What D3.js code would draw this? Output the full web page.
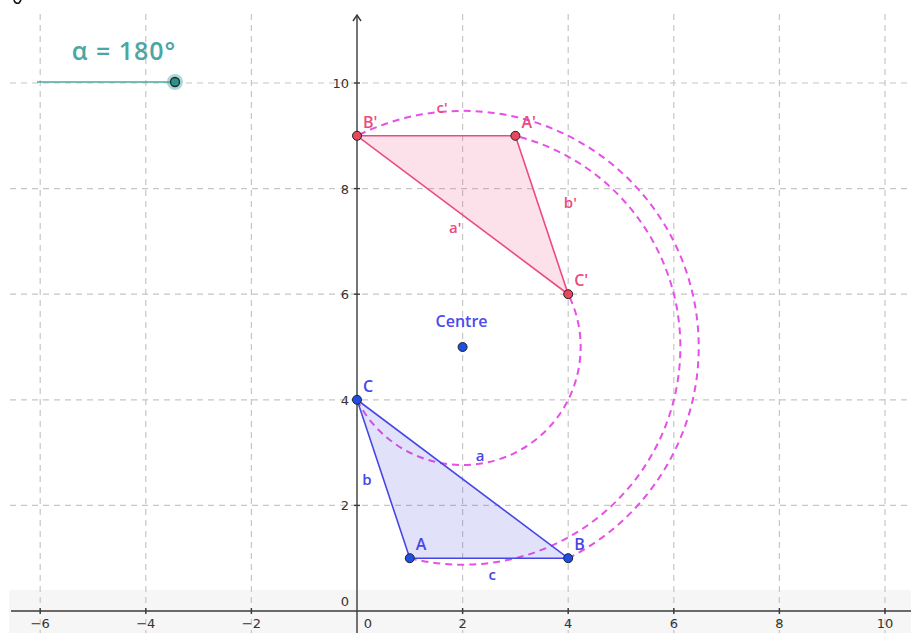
<!DOCTYPE html>
<html>
<head>
<meta charset="utf-8">
<script src="https://cdn.jsdelivr.net/npm/d3@7"></script>
<style>
  html, body { margin: 0; padding: 0; background: #fff; }
  svg { display: block; font-family: "DejaVu Sans", sans-serif; }
  .lab { font-family: "Open Sans", "DejaVu Sans", sans-serif; font-weight: 600; }
</style>
</head>
<body>
<svg id="chart" width="911" height="633"></svg>
<script>
// rotation angle (degrees) and centre
const alphaDeg = 180;
const centre = { name: "Centre", x: 2, y: 5 };

// original triangle and its image
const original = [
  { name: "A", x: 1, y: 1 },
  { name: "B", x: 4, y: 1 },
  { name: "C", x: 0, y: 4 }
];
const rotated = [
  { name: "A'", x: 3, y: 9 },
  { name: "B'", x: 0, y: 9 },
  { name: "C'", x: 4, y: 6 }
];

// segment labels, anchored in graph units
const segLabels = [
  { t: "a", x: 2.33, y: 2.94, img: false },
  { t: "b", x: 0.19, y: 2.48, img: false },
  { t: "c", x: 2.56, y: 0.68, img: false },
  { t: "a'", x: 1.86, y: 7.25, img: true },
  { t: "b'", x: 4.04, y: 7.73, img: true },
  { t: "c'", x: 1.61, y: 9.53, img: true }
];

const xTicks = [-6, -4, -2, 0, 2, 4, 6, 8, 10];
const yTicks = [0, 2, 4, 6, 8, 10];

const W = 911, H = 633;
const blue = "#4646e6", blueFill = "rgba(90,90,220,0.18)", bluePt = "#1d4fe6";
const pink = "#ea4b80", pinkFill = "rgba(236,90,140,0.18)", pinkPt = "#e8485e";
const arcCol = "#e650e6", teal = "#4aa7a3";

const svg = d3.select("#chart");

const x = d3.scaleLinear().domain([0, 10]).range([357, 885]);
const y = d3.scaleLinear().domain([0, 10]).range([611, 83]);

// cropped glyph fragment at the very top (drawn as a mark)
svg.append("path").attr("d", "M14,0 Q15,4 19,3 L21,0").attr("fill", "none")
  .attr("stroke", "#111").attr("stroke-width", 1.6);

// grey band along the bottom
svg.append("rect").attr("x", 9).attr("y", 590).attr("width", W - 9).attr("height", H - 590)
  .attr("fill", "#f6f6f6");

// grid
const grid = svg.append("g").attr("stroke", "#c6c6c6").attr("stroke-width", 1.2)
  .attr("stroke-dasharray", "6,5");
grid.selectAll(".gx").data(xTicks.filter(d => d !== 0)).join("line")
  .attr("x1", d => x(d)).attr("x2", d => x(d)).attr("y1", 14).attr("y2", H);
grid.selectAll(".gy").data(yTicks.filter(d => d !== 0)).join("line")
  .attr("x1", 10).attr("x2", W).attr("y1", d => y(d)).attr("y2", d => y(d));

// axes
const axes = svg.append("g").attr("stroke", "#3a3a3a").attr("stroke-width", 1.4);
axes.append("line").attr("x1", 11).attr("x2", W).attr("y1", y(0)).attr("y2", y(0));
axes.append("line").attr("x1", x(0)).attr("x2", x(0)).attr("y1", 16).attr("y2", H);
axes.append("path").attr("fill", "none")
  .attr("d", `M${x(0) - 4},${21}L${x(0)},${15}L${x(0) + 4},${21}`);
axes.selectAll(".tx").data(xTicks.filter(d => d !== 0)).join("line")
  .attr("x1", d => x(d)).attr("x2", d => x(d)).attr("y1", y(0) - 3).attr("y2", y(0) + 3);
axes.selectAll(".ty").data(yTicks.filter(d => d !== 0)).join("line")
  .attr("x1", x(0) - 3).attr("x2", x(0) + 3).attr("y1", d => y(d)).attr("y2", d => y(d));

const lbl = svg.append("g").attr("font-size", 13).attr("fill", "#333");
lbl.selectAll(".lx").data(xTicks).join("text")
  .attr("x", d => d === 0 ? x(0) + 11 : x(d)).attr("y", y(0) + 17)
  .attr("text-anchor", "middle").text(d => d < 0 ? "\u2212" + Math.abs(d) : d);
lbl.selectAll(".ly").data(yTicks).join("text")
  .attr("x", x(0) - 8).attr("y", d => d === 0 ? y(0) - 5 : y(d) + 5)
  .attr("text-anchor", "end").text(d => d);

// rotation arcs (dashed), from each original vertex to its image
const rad = alphaDeg * Math.PI / 180;
const k = x(1) - x(0);
svg.append("g").selectAll("path").data(original).join("path")
  .attr("fill", "none").attr("stroke", arcCol).attr("stroke-width", 2)
  .attr("stroke-dasharray", "7,5")
  .attr("d", p => {
    const r = Math.hypot(p.x - centre.x, p.y - centre.y);
    const a0 = Math.atan2(p.y - centre.y, p.x - centre.x);
    const path = d3.path();
    path.arc(x(centre.x), y(centre.y), r * k, -a0, -(a0 + rad), true);
    return path.toString();
  });

// triangles
const line = d3.line().x(d => x(d.x)).y(d => y(d.y));
svg.append("path").datum(original).attr("d", line(original) + "Z")
  .attr("fill", blueFill).attr("stroke", blue).attr("stroke-width", 1.6);
svg.append("path").datum(rotated).attr("d", line(rotated) + "Z")
  .attr("fill", pinkFill).attr("stroke", pink).attr("stroke-width", 1.6);

// segment labels
svg.append("g").attr("class", "lab").attr("font-size", 15).selectAll("text").data(segLabels).join("text")
  .attr("x", d => x(d.x)).attr("y", d => y(d.y)).attr("dy", "0.35em")
  .attr("text-anchor", "middle").attr("fill", d => d.img ? pink : blue).text(d => d.t);

// points
function drawPoints(pts, fill, txtCol) {
  const g = svg.append("g");
  g.selectAll("circle").data(pts).join("circle")
    .attr("cx", d => x(d.x)).attr("cy", d => y(d.y)).attr("r", 4.5)
    .attr("fill", fill).attr("stroke", "#222").attr("stroke-width", 1);
  g.selectAll("text").data(pts).join("text").attr("class", "lab")
    .attr("x", d => x(d.x) + 6).attr("y", d => y(d.y) - 8)
    .attr("font-size", 16).attr("fill", txtCol).text(d => d.name);
}
drawPoints(original, bluePt, blue);
drawPoints(rotated, pinkPt, pink);

// centre
svg.append("circle").attr("cx", x(centre.x)).attr("cy", y(centre.y)).attr("r", 4.5)
  .attr("fill", bluePt).attr("stroke", "#222").attr("stroke-width", 1);
svg.append("text").attr("class", "lab").attr("x", x(centre.x) - 1).attr("y", y(centre.y) - 20)
  .attr("text-anchor", "middle").attr("font-size", 16).attr("fill", "#4a4af0").text(centre.name);

// slider
svg.append("line").attr("x1", 37).attr("x2", 175).attr("y1", 82).attr("y2", 82)
  .attr("stroke", teal).attr("stroke-width", 1.5);
svg.append("circle").attr("cx", 175).attr("cy", 82).attr("r", 8).attr("fill", teal).attr("opacity", 0.45);
svg.append("circle").attr("cx", 175).attr("cy", 82).attr("r", 4.5)
  .attr("fill", "#2f8f8b").attr("stroke", "#1a2a2a").attr("stroke-width", 1.3);
svg.append("text").attr("x", 124).attr("y", 60).attr("text-anchor", "middle")
  .attr("class", "lab").attr("font-size", 25).attr("letter-spacing", 1).attr("fill", teal)
  .text(`\u03b1 = ${alphaDeg}\u00b0`);
</script>
</body>
</html>
